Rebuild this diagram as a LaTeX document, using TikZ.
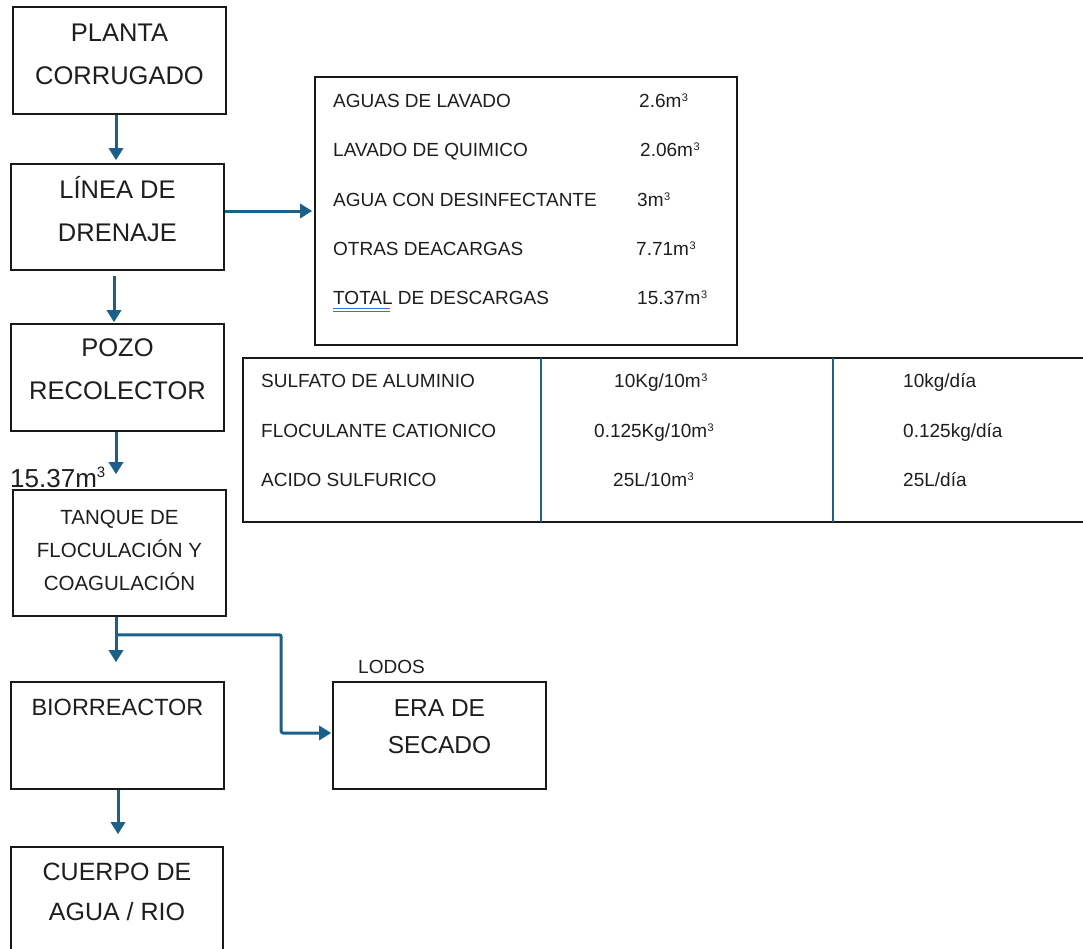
\documentclass[tikz,border=0pt]{standalone}
\usepackage{fontspec}
\setmainfont{Liberation Sans}
\usetikzlibrary{arrows.meta,calc}
\definecolor{flow}{RGB}{28,96,138}
\definecolor{txt}{RGB}{30,30,30}
\definecolor{spell}{RGB}{60,110,220}
\newcommand{\cub}{\textsuperscript{\kern0.5pt\fontsize{11}{11}\selectfont 3}}
\tikzset{
  box/.style={draw=black!90, line width=1.6pt, inner sep=0pt, fill=none},
  arr/.style={draw=flow, line width=3pt, -{Triangle[length=12pt,width=14pt]}},
  divider/.style={draw=flow, line width=2.6pt},
  bigtxt/.style={text=txt, align=center, inner sep=0pt, font=\fontsize{25.5}{43}\selectfont},
  tbltxt/.style={text=txt, anchor=base west, inner sep=0pt, font=\fontsize{19}{22}\selectfont},
}
\begin{document}
\begin{tikzpicture}[x=1pt,y=-1pt]
\clip (0,0) rectangle (1083,948);
\fill[white] (0,0) rectangle (1083,948);

% boxes
\node[box, minimum width=213pt, minimum height=107pt] (planta) at (119.5,60.5) {};
\node[box, minimum width=213pt, minimum height=106pt] (linea) at (117.5,217) {};
\node[box, minimum width=213pt, minimum height=107pt] (pozo) at (117.5,377.5) {};
\node[box, minimum width=213pt, minimum height=126pt] (tanque) at (119.5,553) {};
\node[box, minimum width=213pt, minimum height=107pt] (bio) at (117.5,735.5) {};
\node[box, minimum width=213pt, minimum height=107pt] (era) at (439.5,735.5) {};
\node[box, minimum width=212pt, minimum height=130pt] (cuerpo) at (117,912) {};
\node[box, minimum width=422pt, minimum height=268pt] (tabla1) at (526,211) {};
\node[box, minimum width=847pt, minimum height=164pt] (tabla2) at (666.5,440) {};

% texts in boxes
\node[bigtxt] (tplanta) at (119.5,54.5) {PLANTA\\CORRUGADO};
\node[bigtxt] (tlinea) at (117.5,209) {LÍNEA DE\\DRENAJE};
\node[bigtxt] (tpozo) at (117.5,369) {POZO\\RECOLECTOR};
\node[bigtxt, font=\fontsize{20.5}{33}\selectfont] (ttanque) at (119.5,550) {TANQUE DE\\FLOCULACIÓN Y\\COAGULACIÓN};
\node[bigtxt, font=\fontsize{23.5}{40}\selectfont] (tbio) at (117.5,707) {BIORREACTOR};
\node[bigtxt, font=\fontsize{24.5}{37}\selectfont] (tera) at (439.5,726.5) {ERA DE\\SECADO};
\node[bigtxt, font=\fontsize{25}{40}\selectfont] (tcuerpo) at (117,892) {CUERPO DE\\AGUA / RIO};

\node[tbltxt] (lodos) at (358,673.5) {LODOS};
\node[text=txt, anchor=base west, inner sep=0pt, font=\fontsize{26}{28}\selectfont] (vol) at (10,487) {15.37m\textsuperscript{\fontsize{15}{15}\selectfont 3}};

% table 1
\node[tbltxt] (a1) at (333,107.5) {AGUAS DE LAVADO};
\node[tbltxt] (a2) at (333,156.5) {LAVADO DE QUIMICO};
\node[tbltxt] (a3) at (333,206.5) {AGUA CON DESINFECTANTE};
\node[tbltxt] (a4) at (333,255.5) {OTRAS DEACARGAS};
\node[tbltxt] (a5) at (333,304.5) {TOTAL DE DESCARGAS};
\node[tbltxt] (v1) at (639,107.5) {2.6m\cub};
\node[tbltxt] (v2) at (640,156.5) {2.06m\cub};
\node[tbltxt] (v3) at (637,206.5) {3m\cub};
\node[tbltxt] (v4) at (636,255.5) {7.71m\cub};
\node[tbltxt] (v5) at (637,304.5) {15.37m\cub};
\draw[spell, line width=1pt] (333,308) -- (390,308);
\draw[spell, line width=1pt] (333,311.5) -- (390,311.5);

% table 2
\draw[divider] (541,358) -- (541,522);
\draw[divider] (833,358) -- (833,522);
\node[tbltxt] (b1) at (261,387.5) {SULFATO DE ALUMINIO};
\node[tbltxt] (b2) at (261,437.5) {FLOCULANTE CATIONICO};
\node[tbltxt] (b3) at (261,486.5) {ACIDO SULFURICO};
\node[tbltxt] (c1) at (614,387.5) {10Kg/10m\cub};
\node[tbltxt] (c2) at (594,437.5) {0.125Kg/10m\cub};
\node[tbltxt] (c3) at (613,486.5) {25L/10m\cub};
\node[tbltxt] (d1) at (903,387.5) {10kg/día};
\node[tbltxt] (d2) at (903,437.5) {0.125kg/día};
\node[tbltxt] (d3) at (903,486.5) {25L/día};

% connectors
\draw[arr] ([xshift=-3.5pt]planta.south) -- ([xshift=-3.5pt,yshift=3pt]planta.south |- linea.north);
\draw[arr] ([xshift=-3.5pt,yshift=-5pt]linea.south) -- ([xshift=-3.5pt,yshift=1pt]linea.south |- pozo.north);
\draw[arr] ([xshift=-1.5pt]pozo.south) -- ([xshift=-1.5pt,yshift=15pt]pozo.south |- tanque.north);
\draw[arr] ([xshift=-3.5pt]tanque.south) -- ([xshift=-3.5pt,yshift=19pt]tanque.south |- bio.north);
\coordinate (br) at ([xshift=-3.5pt,yshift=-18pt]tanque.south);
\draw[arr, rounded corners=2pt] (br) -| ([xshift=-51pt,yshift=2.5pt]era.west) -- ([xshift=-1pt,yshift=2.5pt]era.west);
\draw[arr] ([yshift=6pt]linea.east) -- ([xshift=-2pt,yshift=6pt]linea.east -| tabla1.west);
\draw[arr] ([xshift=0.5pt]bio.south) -- ([xshift=0.5pt,yshift=12pt]bio.south |- cuerpo.north);
\end{tikzpicture}
\end{document}
